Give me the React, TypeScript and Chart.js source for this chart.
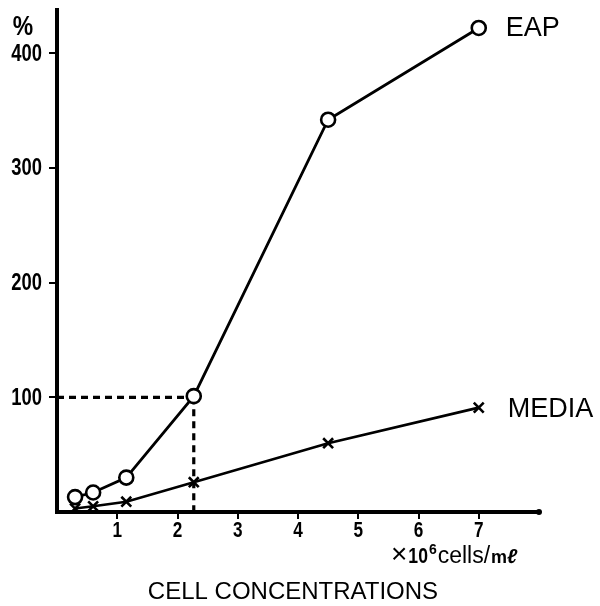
import React, { useEffect, useRef } from "react";
import { Chart, registerables } from "chart.js";

Chart.register(...registerables);

const cellConc = [0.3, 0.6, 1.15, 2.27, 4.5, 7.0];
const eapValues = [13, 17, 30, 101, 342, 422];
const mediaValues = [3, 5, 9, 26, 60, 91];
const xTicks = [1, 2, 3, 4, 5, 6, 7];
const yTicks = [100, 200, 300, 400];
const refX = 2.27;
const refY = 100;

const SANS = '"Liberation Sans", Arial, sans-serif';

const textPlugin = {
  id: "annotText",
  afterDraw(chart: any) {
    const ctx = chart.ctx;
    const xs = chart.scales.x;
    const ys = chart.scales.y;
    ctx.save();
    ctx.fillStyle = "#000";
    // axis end dot
    ctx.beginPath();
    ctx.arc(xs.right, ys.bottom, 3, 0, Math.PI * 2);
    ctx.fill();
    // tick labels (condensed bold)
    ctx.font = `bold 22px ${SANS}`;
    ctx.textAlign = "center";
    ctx.textBaseline = "middle";
    xs.ticks.forEach((t: any) => {
      const px = xs.getPixelForValue(t.value);
      ctx.save();
      ctx.translate(px, ys.bottom + 19);
      ctx.scale(0.78, 1);
      ctx.fillText(String(t.value), 0, 0);
      ctx.restore();
    });
    ctx.font = `bold 23px ${SANS}`;
    ctx.textAlign = "right";
    ys.ticks.forEach((t: any) => {
      const py = ys.getPixelForValue(t.value);
      ctx.save();
      ctx.translate(42, py + 1);
      ctx.scale(0.8, 1);
      ctx.fillText(String(t.value), 0, 0);
      ctx.restore();
    });
    // % label
    ctx.save();
    ctx.font = `bold 27px ${SANS}`;
    ctx.textAlign = "center";
    ctx.translate(23, 28);
    ctx.scale(0.85, 1);
    ctx.fillText("%", 0, 0);
    ctx.restore();
    // series labels
    ctx.font = `27px ${SANS}`;
    ctx.textAlign = "left";
    const lastX = xs.getPixelForValue(cellConc[cellConc.length - 1]);
    ctx.fillText("EAP", lastX + 27, ys.getPixelForValue(eapValues[eapValues.length - 1]) + 1);
    ctx.fillText("MEDIA", lastX + 29, ys.getPixelForValue(mediaValues[mediaValues.length - 1]) + 2);
    // unit label
    let ux = 391;
    const uy = 563;
    ctx.textBaseline = "alphabetic";
    ctx.font = `28px ${SANS}`;
    ctx.fillText("×", ux, uy);
    ux += ctx.measureText("×").width + 1;
    ctx.save();
    ctx.font = `bold 22px ${SANS}`;
    ctx.translate(ux, uy);
    ctx.scale(0.8, 1);
    ctx.fillText("10", 0, 0);
    ux += ctx.measureText("10").width * 0.8 + 1;
    ctx.restore();
    ctx.font = `bold 14px ${SANS}`;
    ctx.fillText("6", ux, uy - 9);
    ux += ctx.measureText("6").width + 1;
    ctx.font = `23px ${SANS}`;
    ctx.fillText("cells/", ux, uy);
    ux += ctx.measureText("cells/").width + 1;
    ctx.font = `bold 18px ${SANS}`;
    ctx.fillText("m", ux, uy);
    ux += ctx.measureText("m").width;
    ctx.font = `italic bold 20px ${SANS}`;
    ctx.fillText("ℓ", ux, uy);
    // axis title
    ctx.font = `24px ${SANS}`;
    ctx.textAlign = "center";
    ctx.textBaseline = "middle";
    ctx.fillText("CELL CONCENTRATIONS", 293, 592);
    ctx.restore();
  },
};

export default function App() {
  const ref = useRef<HTMLCanvasElement | null>(null);
  useEffect(() => {
    if (!ref.current) return;
    const chart = new Chart(ref.current, {
      type: "line",
      data: {
        datasets: [
          {
            label: "EAP",
            data: cellConc.map((x, i) => ({ x, y: eapValues[i] })),
            borderColor: "#000",
            borderWidth: 2.8,
            pointStyle: "circle",
            pointRadius: 7,
            pointBorderWidth: 2.6,
            pointBackgroundColor: "#fff",
            pointBorderColor: "#000",
            tension: 0,
            order: 0,
          },
          {
            label: "MEDIA",
            data: cellConc.map((x, i) => ({ x, y: mediaValues[i] })),
            borderColor: "#000",
            borderWidth: 2.6,
            pointStyle: "crossRot",
            pointRadius: 7,
            pointBorderWidth: 2.6,
            pointBorderColor: "#000",
            tension: 0,
            order: 1,
          },
          {
            label: "refH",
            data: [
              { x: 0, y: refY },
              { x: refX, y: refY },
            ],
            borderColor: "#000",
            borderWidth: 3.2,
            borderDash: [7, 5],
            pointRadius: 0,
            order: 2,
          },
          {
            label: "refV",
            data: [
              { x: refX, y: refY },
              { x: refX, y: 0 },
            ],
            borderColor: "#000",
            borderWidth: 3.2,
            borderDash: [7, 5],
            pointRadius: 0,
            order: 2,
          },
        ],
      },
      options: {
        animation: false,
        responsive: false,
        maintainAspectRatio: false,
        layout: { padding: { top: 8, right: 61, left: 0, bottom: 0 } },
        plugins: { legend: { display: false }, tooltip: { enabled: false } },
        scales: {
          x: {
            type: "linear",
            min: 0,
            max: 8,
            afterBuildTicks: (s: any) => {
              s.ticks = xTicks.map((v) => ({ value: v }));
            },
            afterFit: (s: any) => {
              s.height = 94;
              s.paddingLeft = 0;
              s.paddingRight = 0;
            },
            grid: {
              display: true,
              drawOnChartArea: false,
              drawTicks: true,
              tickLength: 7,
              lineWidth: 2,
              color: "#000",
            },
            border: { display: true, width: 4, color: "#000" },
            ticks: {
              color: "rgba(0,0,0,0)",
              padding: 3,
              font: { family: SANS, size: 20, weight: "bold" },
              callback: (v: any) => String(v),
            },
          },
          y: {
            type: "linear",
            min: 0,
            max: 438,
            afterBuildTicks: (s: any) => {
              s.ticks = yTicks.map((v) => ({ value: v }));
            },
            afterFit: (s: any) => {
              s.width = 57;
              s.paddingTop = 0;
              s.paddingBottom = 0;
            },
            grid: {
              display: true,
              drawOnChartArea: false,
              drawTicks: true,
              tickLength: 8,
              lineWidth: 2,
              color: "#000",
            },
            border: { display: true, width: 4, color: "#000" },
            ticks: {
              color: "rgba(0,0,0,0)",
              padding: 5,
              font: { family: SANS, size: 21, weight: "bold" },
              callback: (v: any) => String(v),
            },
          },
        },
      },
      plugins: [textPlugin],
    });
    return () => chart.destroy();
  }, []);
  return (
    <div style={{ position: "absolute", left: 0, top: 0, width: 600, height: 606, background: "#fff" }}>
      <canvas ref={ref} width={600} height={606} style={{ width: 600, height: 606 }} />
    </div>
  );
}
